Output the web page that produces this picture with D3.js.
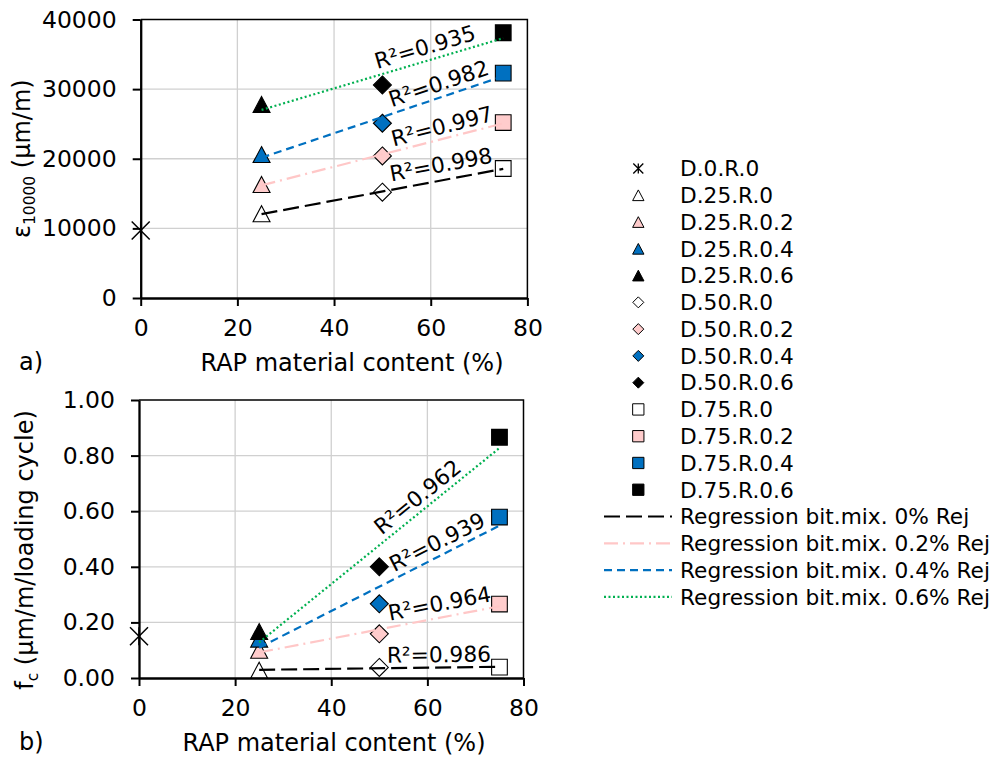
<!DOCTYPE html>
<html><head><meta charset="utf-8">
<script src="https://cdn.jsdelivr.net/npm/d3@7"></script>
<style>
body{margin:0;background:#fff}
svg{display:block}
text{font-family:"DejaVu Sans",Verdana,sans-serif;fill:#000}
</style>
</head><body>
<svg id="chart" width="997" height="758"></svg>
<script>
// ---------------- data ----------------
const mixNames = ["D.0.R.0","D.25.R.0","D.25.R.0.2","D.25.R.0.4","D.25.R.0.6","D.50.R.0","D.50.R.0.2","D.50.R.0.4","D.50.R.0.6","D.75.R.0","D.75.R.0.2","D.75.R.0.4","D.75.R.0.6"];
const rapContent = [0, 25, 25, 25, 25, 50, 50, 50, 50, 75, 75, 75, 75];
const strainValues = [9700, 12100, 16300, 20600, 27800, 15200, 20400, 25100, 30600, 18600, 25200, 32300, 38100];
const rateValues = [0.150, 0.028, 0.100, 0.140, 0.167, 0.038, 0.159, 0.267, 0.400, 0.039, 0.266, 0.579, 0.866];
const rejLevels = ["0", "0.2", "0.4", "0.6"];
const regressionNames = rejLevels.map(r => "Regression bit.mix. " + r + "% Rej");
const regressionMembers = [[1,5,9],[2,6,10],[3,7,11],[4,8,12]];
const r2Strain = ["0.998","0.997","0.982","0.935"];
const r2Rate = ["0.986","0.964","0.939","0.962"];
const xTicks = [0, 20, 40, 60, 80];
const strainTicks = [0, 10000, 20000, 30000, 40000];
const rateTicks = [0, 0.2, 0.4, 0.6, 0.8, 1.0];

// ---------------- styles / layout ----------------
const PINK = "#ffcccc", BLUE = "#0070c0";
const markerShape = ["star","triangle","triangle","triangle","triangle","diamond","diamond","diamond","diamond","square","square","square","square"];
const markerFill = ["none","#ffffff",PINK,BLUE,"#000000","#ffffff",PINK,BLUE,"#000000","#ffffff",PINK,BLUE,"#000000"];
const lineColor = ["#000000","#ffc7c7","#0070c0","#00b050"];
const lineDash = ["16,6","14,5,2,5","8,5","2,2.5"];
const chartSize = {star:18, triangle:16, diamond:18, square:15.7};
const legendSize = {star:10, triangle:10.7, diamond:11, square:11.3};
const strainLabelAt = [[62.1,19200],[62.3,24700],[61.6,30830],[58.8,36090]];
const rateLabelAt = [[62.4,0.085],[62.5,0.269],[62.0,0.490],[57.9,0.652]];

const FS_TICK = 23.5, FS_TITLE = 24, FS_LEG = 21.7, FS_R2 = 21.7;
const svg = d3.select("#chart");

function markerPath(shape, s) {
  const h = s / 2;
  switch (shape) {
    case "triangle": return `M0,${-h}L${h*1.06},${h}L${-h*1.06},${h}Z`;
    case "diamond": return `M0,${-h}L${h},0L0,${h}L${-h},0Z`;
    case "square": return `M${-h},${-h}H${h}V${h}H${-h}Z`;
    case "star": return `M${-h},${-h}L${h},${h}M${h},${-h}L${-h},${h}M0,${-h}V${h}`;
  }
}

function linFit(xs, ys) {
  const mx = d3.mean(xs), my = d3.mean(ys);
  const b = d3.sum(xs.map((x, i) => (x - mx) * (ys[i] - my))) / d3.sum(xs.map(x => (x - mx) ** 2));
  return { a: my - b * mx, b };
}

function drawPanel(cfg) {
  const g = svg.append("g");
  const x = d3.scaleLinear().domain([0, 80]).range([cfg.left, cfg.right]);
  const y = d3.scaleLinear().domain(cfg.yDomain).range([cfg.bottom, cfg.top]);

  g.append("g").selectAll("line").data(xTicks.filter(t => t > 0 && t < 80)).join("line")
    .attr("x1", d => x(d)).attr("x2", d => x(d)).attr("y1", cfg.top).attr("y2", cfg.bottom)
    .attr("stroke", "#d0d0d0").attr("stroke-width", 1.3);
  g.append("g").selectAll("line").data(cfg.yTicks.slice(1, -1)).join("line")
    .attr("y1", d => y(d)).attr("y2", d => y(d)).attr("x1", cfg.left).attr("x2", cfg.right)
    .attr("stroke", "#d0d0d0").attr("stroke-width", 1.3);

  g.append("path").attr("d", `M${cfg.left},${cfg.top}H${cfg.right}V${cfg.bottom}`)
    .attr("fill", "none").attr("stroke", "#000").attr("stroke-width", 1.5);

  g.append("g").selectAll("path").data(cfg.values.map((v, i) => ({ v, i }))).join("path")
    .attr("transform", d => `translate(${x(rapContent[d.i])},${y(d.v)})`)
    .attr("d", d => markerPath(markerShape[d.i], chartSize[markerShape[d.i]]))
    .attr("fill", d => markerFill[d.i])
    .attr("stroke", "#000").attr("stroke-width", d => markerShape[d.i] === "star" ? 1.5 : 1.1);

  const fits = regressionMembers.map(m => {
    const xs = m.map(i => rapContent[i]), ys = m.map(i => cfg.values[i]);
    return { f: linFit(xs, ys), x0: d3.min(xs), x1: d3.max(xs) };
  });
  g.append("g").selectAll("line").data(fits).join("line")
    .attr("x1", d => x(d.x0)).attr("y1", d => y(d.f.a + d.f.b * d.x0))
    .attr("x2", d => x(d.x1)).attr("y2", d => y(d.f.a + d.f.b * d.x1))
    .attr("stroke", (d, i) => lineColor[i]).attr("stroke-width", 2.2)
    .attr("stroke-dasharray", (d, i) => lineDash[i]);

  const ax = g.append("g").attr("transform", `translate(0,${cfg.bottom})`)
    .call(d3.axisBottom(x).tickValues(xTicks).tickSize(8).tickSizeOuter(0).tickPadding(13));
  const ay = g.append("g").attr("transform", `translate(${cfg.left},0)`)
    .call(d3.axisLeft(y).tickValues(cfg.yTicks).tickSize(8).tickSizeOuter(0).tickPadding(16).tickFormat(cfg.fmt));
  [ax, ay].forEach(a => {
    a.select(".domain").attr("stroke", "#000").attr("stroke-width", 2.3);
    a.selectAll(".tick line").attr("stroke", "#000").attr("stroke-width", 2);
    a.selectAll(".tick text").attr("font-size", FS_TICK).attr("font-family", '"DejaVu Sans",Verdana,sans-serif').attr("fill", "#000");
  });

  g.append("g").selectAll("text").data(fits).join("text")
    .attr("transform", (d, i) => {
      const [lx, ly] = cfg.labelAt[i];
      const ang = Math.atan2(y(d.f.b * 10) - y(0), x(10) - x(0)) * 180 / Math.PI;
      return `translate(${x(lx)},${y(ly)}) rotate(${ang})`;
    })
    .attr("text-anchor", "middle").attr("dy", "0.36em").attr("font-size", FS_R2)
    .text((d, i) => "R²=" + cfg.r2[i]);

  g.append("text").attr("x", cfg.xTitleX).attr("y", cfg.bottom + 73).attr("text-anchor", "middle")
    .attr("font-size", FS_TITLE).text("RAP material content (%)");
  g.append("text").attr("x", 19).attr("y", cfg.bottom + 72).attr("font-size", FS_TITLE).text(cfg.letter);

  const yt = g.append("text").attr("transform", `translate(${cfg.yTitleX},${cfg.yTitleY}) rotate(-90)`)
    .attr("text-anchor", "middle").attr("font-size", FS_TITLE);
  yt.append("tspan").text(cfg.yTitle[0]);
  yt.append("tspan").attr("font-size", 15.5).attr("dy", 5).text(cfg.yTitle[1]);
  yt.append("tspan").attr("dy", -5).text(cfg.yTitle[2]);
}

drawPanel({ left: 140.7, right: 527.4, top: 19.5, bottom: 298, yDomain: [0, 40000], yTicks: strainTicks,
  fmt: d3.format("d"), values: strainValues, labelAt: strainLabelAt, r2: r2Strain, letter: "a)",
  xTitleX: 352, yTitleX: 30, yTitleY: 158.7, yTitle: ["ε", "10000", " (µm/m)"] });
drawPanel({ left: 139, right: 523.5, top: 400, bottom: 678, yDomain: [0, 1], yTicks: rateTicks,
  fmt: d3.format(".2f"), values: rateValues, labelAt: rateLabelAt, r2: r2Rate, letter: "b)",
  xTitleX: 334, yTitleX: 33, yTitleY: 550, yTitle: ["f", "c", " (µm/m/loading cycle)"] });

// ---------------- legend ----------------
const LEG_Y0 = 168.5, LEG_DY = 26.77, LEG_MX = 638.3, LEG_TX = 680;
const leg = svg.append("g");
const mRows = leg.selectAll("g.m").data(mixNames).join("g").attr("class", "m")
  .attr("transform", (d, i) => `translate(0,${LEG_Y0 + i * LEG_DY})`);
mRows.append("path").attr("transform", `translate(${LEG_MX},0)`)
  .attr("d", (d, i) => markerPath(markerShape[i], legendSize[markerShape[i]]))
  .attr("fill", (d, i) => markerFill[i]).attr("stroke", "#000")
  .attr("stroke-width", (d, i) => markerShape[i] === "star" ? 1.3 : 1);
mRows.append("text").attr("x", LEG_TX).attr("dy", "0.36em").attr("font-size", FS_LEG).text(d => d);
const lRows = leg.selectAll("g.l").data(regressionNames).join("g").attr("class", "l")
  .attr("transform", (d, i) => `translate(0,${LEG_Y0 + (i + mixNames.length) * LEG_DY})`);
lRows.append("line").attr("x1", 604).attr("x2", 672).attr("y1", 0).attr("y2", 0)
  .attr("stroke", (d, i) => lineColor[i]).attr("stroke-width", 2.2).attr("stroke-dasharray", (d, i) => lineDash[i]);
lRows.append("text").attr("x", LEG_TX).attr("dy", "0.36em").attr("font-size", FS_LEG).text(d => d);
</script>
</body></html>
